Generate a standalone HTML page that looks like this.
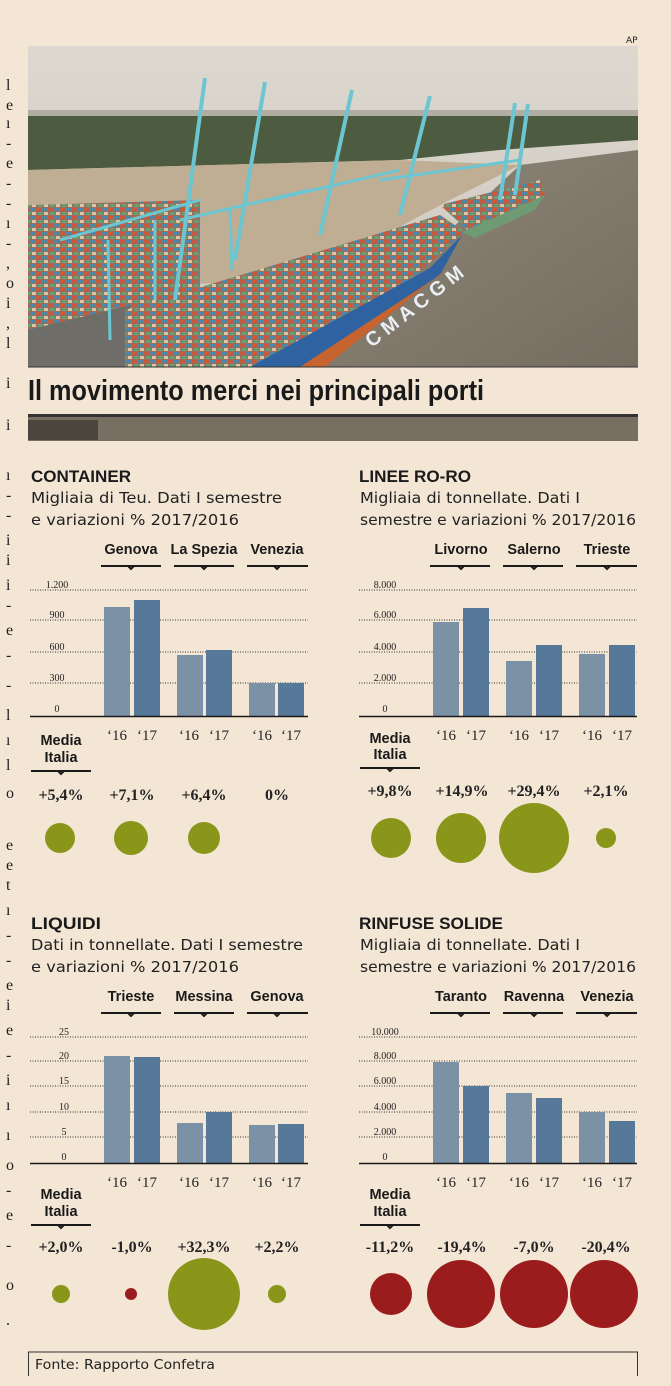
<!DOCTYPE html>
<html><head><meta charset="utf-8"><style>
html,body{margin:0;padding:0;background:#f3e6d5}
svg{display:block}
.h{font-family:"Liberation Sans",sans-serif;font-weight:bold;fill:#1a1a1a}
.s{font-family:"DejaVu Sans","Liberation Sans",sans-serif;fill:#222}
.n{font-family:"Liberation Serif",serif;fill:#222}
.p{font-family:"Liberation Serif",serif;font-weight:bold;fill:#222}
.g{stroke:#333;stroke-width:1;stroke-dasharray:1 1.5}
</style></head><body>
<svg width="671" height="1386" viewBox="0 0 671 1386" xmlns="http://www.w3.org/2000/svg">
<rect width="671" height="1386" fill="#f3e6d5"/>
<defs>
<linearGradient id="sky" x1="0" y1="0" x2="0" y2="1"><stop offset="0" stop-color="#dcd8cf"/><stop offset="1" stop-color="#ccc7bd"/></linearGradient>
<linearGradient id="wat" x1="0" y1="0" x2="1" y2="1"><stop offset="0" stop-color="#8f887a"/><stop offset="1" stop-color="#746d60"/></linearGradient>
<pattern id="yard" width="12" height="8" patternUnits="userSpaceOnUse"><rect width="12" height="8" fill="#9a6e58"/><rect width="5" height="3" fill="#c65a3a"/><rect x="6" y="0" width="5" height="3" fill="#4f86a8"/><rect x="2" y="4" width="5" height="3" fill="#6e9b74"/><rect x="8" y="4" width="4" height="3" fill="#d8c6a8"/></pattern>
</defs>
<g class="n" font-size="16">
<text x="6" y="90">l</text><text x="6" y="110">e</text><text x="6" y="128">ı</text><text x="6" y="148">-</text><text x="6" y="168">e</text><text x="6" y="188">-</text><text x="6" y="208">-</text><text x="6" y="228">ı</text><text x="6" y="248">-</text><text x="6" y="268">,</text><text x="6" y="288">o</text><text x="6" y="308">i</text><text x="6" y="328">,</text><text x="6" y="348">l</text><text x="6" y="388">i</text><text x="6" y="430">i</text><text x="6" y="480">ı</text><text x="6" y="500">-</text><text x="6" y="520">-</text><text x="6" y="545">i</text><text x="6" y="565">i</text><text x="6" y="590">i</text><text x="6" y="610">-</text><text x="6" y="635">e</text><text x="6" y="660">-</text><text x="6" y="690">-</text><text x="6" y="720">l</text><text x="6" y="745">ı</text><text x="6" y="770">l</text><text x="6" y="798">o</text><text x="6" y="850">e</text><text x="6" y="870">e</text><text x="6" y="890">t</text><text x="6" y="915">ı</text><text x="6" y="940">-</text><text x="6" y="965">-</text><text x="6" y="990">e</text><text x="6" y="1010">i</text><text x="6" y="1035">e</text><text x="6" y="1060">-</text><text x="6" y="1085">i</text><text x="6" y="1110">ı</text><text x="6" y="1140">ı</text><text x="6" y="1170">o</text><text x="6" y="1195">-</text><text x="6" y="1220">e</text><text x="6" y="1250">-</text><text x="6" y="1290">o</text><text x="6" y="1325">.</text>
</g>
<text x="626" y="43" class="s" font-size="9">AP</text>
<g>
<rect x="28" y="46" width="610" height="321" fill="url(#sky)"/>
<rect x="28" y="110" width="610" height="6" fill="#b1ada2"/>
<polygon points="28,116 638,116 638,140 500,150 400,160 28,170" fill="#4d5b40"/>
<polygon points="28,170 400,160 520,165 450,200 300,280 28,290" fill="#bfae93"/>
<polygon points="28,205 200,200 200,300 28,330" fill="url(#yard)"/>
<polygon points="520,165 638,150 638,367 300,367 450,230" fill="url(#wat)"/>
<polygon points="28,330 130,305 140,367 28,367" fill="#6e6d68"/>
<polygon points="125,310 440,215 465,232 310,367 125,367" fill="url(#yard)"/>
<polygon points="250,367 430,268 462,235 440,275 300,367" fill="#2f62a0"/>
<polygon points="300,367 440,275 445,270 325,367" fill="#c6632f"/>
<polygon points="440,205 540,180 545,195 470,232" fill="url(#yard)"/>
<polygon points="462,232 545,195 535,210 475,238" fill="#6e9b74"/>
<g stroke="#6cc6d2" stroke-width="4" fill="none">
<line x1="175" y1="300" x2="205" y2="78"/><line x1="235" y1="260" x2="265" y2="82"/><line x1="320" y1="235" x2="352" y2="90"/><line x1="400" y1="215" x2="430" y2="96"/><line x1="500" y1="200" x2="515" y2="103"/><line x1="515" y1="195" x2="528" y2="104"/>
<line x1="60" y1="240" x2="200" y2="200" stroke-width="3"/><line x1="180" y1="220" x2="310" y2="190" stroke-width="3"/><line x1="270" y1="200" x2="400" y2="170" stroke-width="3"/><line x1="380" y1="180" x2="520" y2="160" stroke-width="3"/>
<line x1="108" y1="240" x2="110" y2="340" stroke-width="3"/><line x1="155" y1="220" x2="155" y2="300" stroke-width="3"/><line x1="230" y1="210" x2="232" y2="270" stroke-width="3"/>
</g>
<text x="350" y="335" font-family="Liberation Sans,sans-serif" font-weight="bold" font-size="20" fill="#e9eef3" transform="rotate(-38 380 310)">C M A  C G M</text>
</g>
<line x1="28" y1="367" x2="638" y2="367" stroke="#333" stroke-width="1"/>
<text x="28" y="400" class="h" font-size="29" textLength="456" lengthAdjust="spacingAndGlyphs">Il movimento merci nei principali porti</text>
<rect x="28" y="414" width="610" height="27" fill="#777062"/>
<rect x="28" y="414" width="610" height="3" fill="#333"/>
<rect x="28" y="420" width="70" height="20" fill="#4a463d"/>

<text x="31" y="482" class="h" font-size="17" textLength="100" lengthAdjust="spacingAndGlyphs">CONTAINER</text>
<text x="31" y="503" class="s" font-size="15.5" textLength="251" lengthAdjust="spacingAndGlyphs">Migliaia di Teu. Dati I semestre</text>
<text x="31" y="525" class="s" font-size="15.5" textLength="208" lengthAdjust="spacingAndGlyphs">e variazioni % 2017/2016</text>
<text x="359" y="482" class="h" font-size="17" textLength="112" lengthAdjust="spacingAndGlyphs">LINEE RO-RO</text>
<text x="360" y="503" class="s" font-size="15.5" textLength="220" lengthAdjust="spacingAndGlyphs">Migliaia di tonnellate. Dati I</text>
<text x="360" y="525" class="s" font-size="15.5" textLength="276" lengthAdjust="spacingAndGlyphs">semestre e variazioni % 2017/2016</text>
<text x="31" y="929" class="h" font-size="17" textLength="70" lengthAdjust="spacingAndGlyphs">LIQUIDI</text>
<text x="31" y="950" class="s" font-size="15.5" textLength="272" lengthAdjust="spacingAndGlyphs">Dati in tonnellate. Dati I semestre</text>
<text x="31" y="972" class="s" font-size="15.5" textLength="208" lengthAdjust="spacingAndGlyphs">e variazioni % 2017/2016</text>
<text x="359" y="929" class="h" font-size="17" textLength="144" lengthAdjust="spacingAndGlyphs">RINFUSE SOLIDE</text>
<text x="360" y="950" class="s" font-size="15.5" textLength="220" lengthAdjust="spacingAndGlyphs">Migliaia di tonnellate. Dati I</text>
<text x="360" y="972" class="s" font-size="15.5" textLength="276" lengthAdjust="spacingAndGlyphs">semestre e variazioni % 2017/2016</text>

<g class="h" font-size="14.5" text-anchor="middle">
<text x="131" y="554">Genova</text><text x="204" y="554">La Spezia</text><text x="277" y="554">Venezia</text>
<text x="461" y="554">Livorno</text><text x="534" y="554">Salerno</text><text x="607" y="554">Trieste</text>
<text x="131" y="1001">Trieste</text><text x="204" y="1001">Messina</text><text x="277" y="1001">Genova</text>
<text x="461" y="1001">Taranto</text><text x="534" y="1001">Ravenna</text><text x="607" y="1001">Venezia</text>
</g>
<g stroke="#1a1a1a" stroke-width="2" fill="none">
<path d="M101 566H161M174 566H234M247 566H308"/><path d="M128 566l3 3 3-3M201 566l3 3 3-3M274 566l3 3 3-3"/>
<path d="M430 566H490M503 566H563M576 566H637"/><path d="M458 566l3 3 3-3M531 566l3 3 3-3M604 566l3 3 3-3"/>
<path d="M101 1013H161M174 1013H234M247 1013H308"/><path d="M128 1013l3 3 3-3M201 1013l3 3 3-3M274 1013l3 3 3-3"/>
<path d="M430 1013H490M503 1013H563M576 1013H637"/><path d="M458 1013l3 3 3-3M531 1013l3 3 3-3M604 1013l3 3 3-3"/>
<path d="M31 771H91M360 768H420M31 1225H91M360 1225H420"/>
<path d="M58 771l3 3 3-3M387 768l3 3 3-3M58 1225l3 3 3-3M387 1225l3 3 3-3"/>
</g>
<g class="g">
<path d="M30 590H308M30 620H308M30 652H308M30 683H308"/>
<path d="M359 590H637M359 620H637M359 652H637M359 683H637"/>
<path d="M30 1037H308M30 1061H308M30 1086H308M30 1112H308M30 1137H308"/>
<path d="M359 1037H637M359 1061H637M359 1086H637M359 1112H637M359 1137H637"/>
</g>
<g class="n" font-size="10" text-anchor="middle">
<text x="57" y="588">1.200</text><text x="57" y="618">900</text><text x="57" y="650">600</text><text x="57" y="681">300</text><text x="57" y="712">0</text>
<text x="385" y="588">8.000</text><text x="385" y="618">6.000</text><text x="385" y="650">4.000</text><text x="385" y="681">2.000</text><text x="385" y="712">0</text>
<text x="64" y="1035">25</text><text x="64" y="1059">20</text><text x="64" y="1084">15</text><text x="64" y="1110">10</text><text x="64" y="1135">5</text><text x="64" y="1160">0</text>
<text x="385" y="1035">10.000</text><text x="385" y="1059">8.000</text><text x="385" y="1084">6.000</text><text x="385" y="1110">4.000</text><text x="385" y="1135">2.000</text><text x="385" y="1160">0</text>
</g>
<g fill="#7b92a6">
<rect x="104" y="607" width="26" height="109"/><rect x="177" y="655" width="26" height="61"/><rect x="249" y="683" width="26" height="33"/>
<rect x="433" y="622" width="26" height="94"/><rect x="506" y="661" width="26" height="55"/><rect x="579" y="654" width="26" height="62"/>
<rect x="104" y="1056" width="26" height="107"/><rect x="177" y="1123" width="26" height="40"/><rect x="249" y="1125" width="26" height="38"/>
<rect x="433" y="1062" width="26" height="101"/><rect x="506" y="1093" width="26" height="70"/><rect x="579" y="1112" width="26" height="51"/>
</g>
<g fill="#56799a">
<rect x="134" y="600" width="26" height="116"/><rect x="206" y="650" width="26" height="66"/><rect x="278" y="683" width="26" height="33"/>
<rect x="463" y="608" width="26" height="108"/><rect x="536" y="645" width="26" height="71"/><rect x="609" y="645" width="26" height="71"/>
<rect x="134" y="1057" width="26" height="106"/><rect x="206" y="1112" width="26" height="51"/><rect x="278" y="1124" width="26" height="39"/>
<rect x="463" y="1086" width="26" height="77"/><rect x="536" y="1098" width="26" height="65"/><rect x="609" y="1121" width="26" height="42"/>
</g>
<g stroke="#1a1a1a" stroke-width="1.5">
<path d="M30 716.5H308M359 716.5H637M30 1163.5H308M359 1163.5H637"/>
</g>
<g class="n" font-size="15" text-anchor="middle">
<text x="117" y="740">‘16</text><text x="147" y="740">‘17</text><text x="189" y="740">‘16</text><text x="219" y="740">‘17</text><text x="262" y="740">‘16</text><text x="291" y="740">‘17</text>
<text x="446" y="740">‘16</text><text x="476" y="740">‘17</text><text x="519" y="740">‘16</text><text x="549" y="740">‘17</text><text x="592" y="740">‘16</text><text x="622" y="740">‘17</text>
<text x="117" y="1187">‘16</text><text x="147" y="1187">‘17</text><text x="189" y="1187">‘16</text><text x="219" y="1187">‘17</text><text x="262" y="1187">‘16</text><text x="291" y="1187">‘17</text>
<text x="446" y="1187">‘16</text><text x="476" y="1187">‘17</text><text x="519" y="1187">‘16</text><text x="549" y="1187">‘17</text><text x="592" y="1187">‘16</text><text x="622" y="1187">‘17</text>
</g>
<g class="h" font-size="14.5" text-anchor="middle">
<text x="61" y="745">Media</text><text x="61" y="762">Italia</text>
<text x="390" y="743">Media</text><text x="390" y="759">Italia</text>
<text x="61" y="1199">Media</text><text x="61" y="1216">Italia</text>
<text x="390" y="1199">Media</text><text x="390" y="1216">Italia</text>
</g>
<g class="p" font-size="16" text-anchor="middle">
<text x="61" y="800">+5,4%</text><text x="132" y="800">+7,1%</text><text x="204" y="800">+6,4%</text><text x="277" y="800">0%</text>
<text x="390" y="796">+9,8%</text><text x="462" y="796">+14,9%</text><text x="534" y="796">+29,4%</text><text x="606" y="796">+2,1%</text>
<text x="61" y="1252">+2,0%</text><text x="132" y="1252">-1,0%</text><text x="204" y="1252">+32,3%</text><text x="277" y="1252">+2,2%</text>
<text x="390" y="1252">-11,2%</text><text x="462" y="1252">-19,4%</text><text x="534" y="1252">-7,0%</text><text x="606" y="1252">-20,4%</text>
</g>
<g fill="#8a961a">
<circle cx="60" cy="838" r="15"/><circle cx="131" cy="838" r="17"/><circle cx="204" cy="838" r="16"/>
<circle cx="391" cy="838" r="20"/><circle cx="461" cy="838" r="25"/><circle cx="534" cy="838" r="35"/><circle cx="606" cy="838" r="10"/>
<circle cx="61" cy="1294" r="9"/><circle cx="204" cy="1294" r="36"/><circle cx="277" cy="1294" r="9"/>
</g>
<g fill="#9b1c1c">
<circle cx="131" cy="1294" r="6"/>
<circle cx="391" cy="1294" r="21"/><circle cx="461" cy="1294" r="34"/><circle cx="534" cy="1294" r="34"/><circle cx="604" cy="1294" r="34"/>
</g>
<path d="M28.5 1376V1352H637.5V1376" fill="none" stroke="#333" stroke-width="1"/>
<text x="35" y="1369" class="s" font-size="13.5" textLength="180" lengthAdjust="spacingAndGlyphs">Fonte: Rapporto Confetra</text>
</svg>
</body></html>
